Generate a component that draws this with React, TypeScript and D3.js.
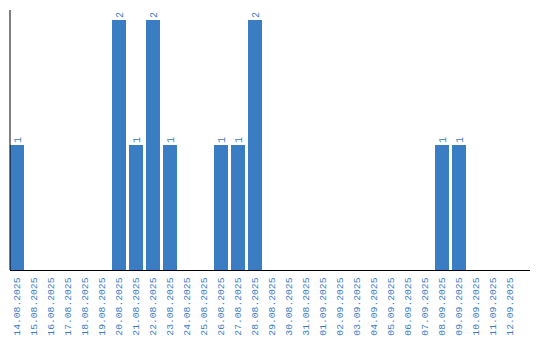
import React from "react";
import * as d3 from "d3";

const categories = [
  "14.08.2025","15.08.2025","16.08.2025","17.08.2025","18.08.2025","19.08.2025",
  "20.08.2025","21.08.2025","22.08.2025","23.08.2025","24.08.2025","25.08.2025",
  "26.08.2025","27.08.2025","28.08.2025","29.08.2025","30.08.2025","31.08.2025",
  "01.09.2025","02.09.2025","03.09.2025","04.09.2025","05.09.2025","06.09.2025",
  "07.09.2025","08.09.2025","09.09.2025","10.09.2025","11.09.2025","12.09.2025",
];
const values = [1,0,0,0,0,0,2,1,2,1,0,0,1,1,2,0,0,0,0,0,0,0,0,0,0,1,1,0,0,0];

const W = 540, H = 340;
const left = 10, right = 517, axisEnd = 530, top = 10, base = 270;
const color = "#3b7dc3";
const font = "'Liberation Mono', monospace";

export default function App() {
  const x = d3.scaleBand<string>().domain(categories).range([left, right]).paddingInner(3 / 17).paddingOuter(0);
  const y = d3.scaleLinear().domain([0, 2.08]).range([base, top]);
  return (
    <svg width={W} height={H} style={{ position: "absolute", left: 0, top: 0 }} fontFamily={font}>
      {categories.map((c, i) =>
        values[i] > 0 ? (
          <g key={c}>
            <rect x={x(c)} y={y(values[i])} width={x.bandwidth()} height={base - y(values[i])} fill={color} />
            <text
              transform={`translate(${x(c)! + x.bandwidth() / 2},${y(values[i]) - 2}) rotate(-90)`}
              dy="0.35em"
              fontSize={10}
              fill={color}
            >
              {values[i]}
            </text>
          </g>
        ) : null
      )}
      <line x1={left} x2={left} y1={top} y2={base} stroke="#000" />
      <line x1={left} x2={axisEnd} y1={base + 0.5} y2={base + 0.5} stroke="#000" />
      {categories.map((c) => (
        <text
          key={"t" + c}
          transform={`translate(${x(c)! + x.bandwidth() / 2},${base + 7.5}) rotate(-90)`}
          textAnchor="end"
          dy="0.35em"
          fontSize={9.7}
          fill={color}
        >
          {c}
        </text>
      ))}
    </svg>
  );
}
